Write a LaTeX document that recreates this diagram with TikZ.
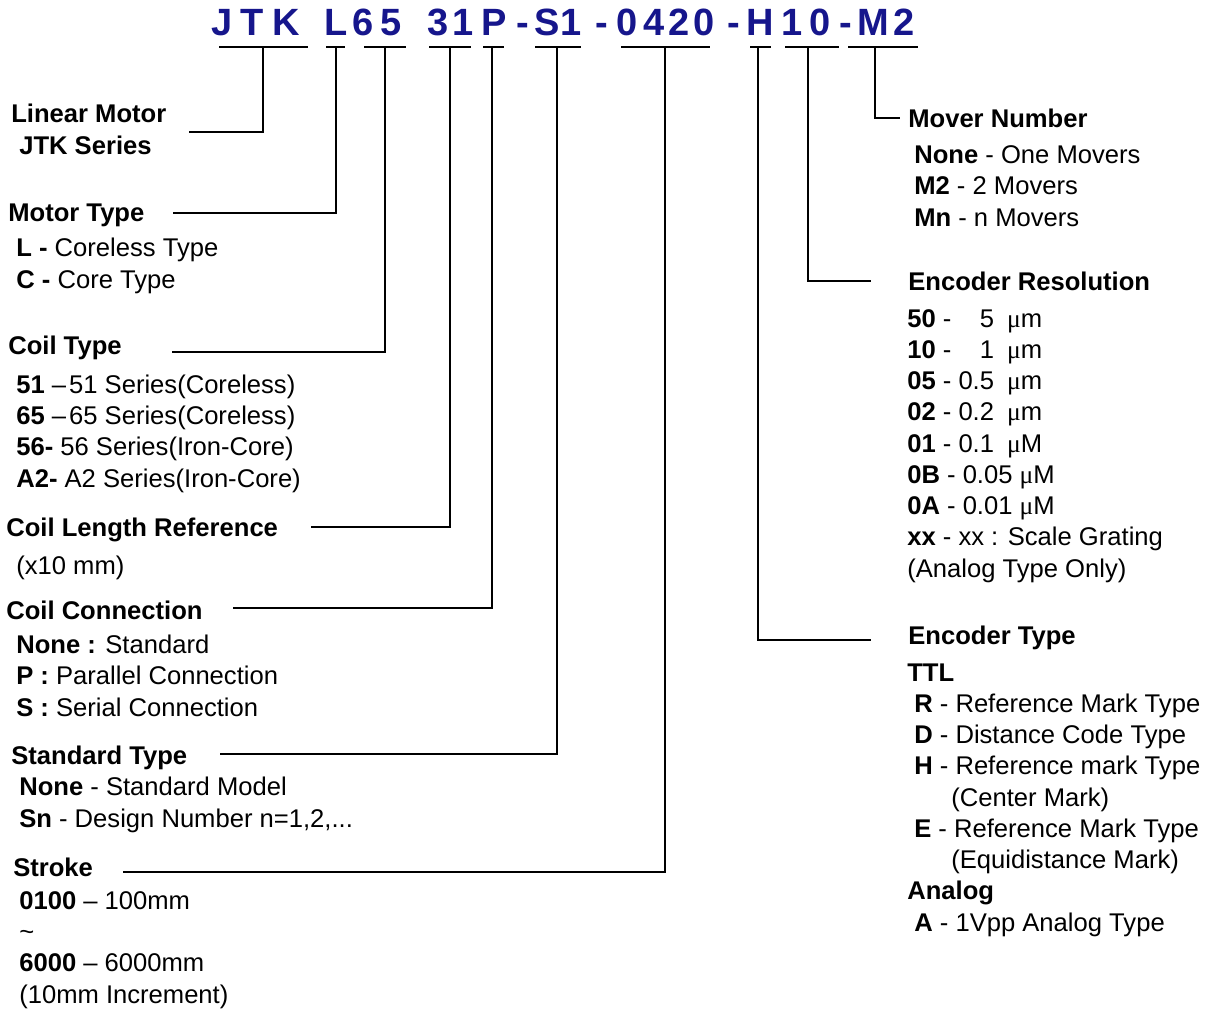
\documentclass[tikz,border=0pt]{standalone}
\usepackage{fontspec}
\setmainfont{Liberation Sans}
\newfontfamily\mufont{Liberation Serif}
\usepackage{xcolor}
\usetikzlibrary{positioning}
\definecolor{codeblue}{RGB}{22,22,140}
\newcommand{\mic}{{\mufont μ}}

\begin{document}
\begin{tikzpicture}[x=1pt, y=-1pt, line width=2.6pt,
    code/.style  = {font=\fontsize{38}{38}\selectfont\bfseries, text=codeblue, inner sep=0pt, anchor=base},
    head/.style  = {font=\fontsize{25.6}{31.25}\selectfont\bfseries, inner sep=0pt, anchor=base west},
    items/.style = {font=\fontsize{25.6}{31.25}\selectfont, inner sep=0pt, anchor=base west, align=left}]
  \useasboundingbox (0,0) rectangle (1211,1012);

  % model code
  \foreach \ch/\cx [count=\i] in {J/222, T/252, K/286, L/336, 6/363, 5/391, 3/438, 1/463, P/494, -/523,
      S/547, 1/571, -/602, 0/627, 4/654, 2/679, 0/704, -/734, H/760, 1/792, 0/820, -/846, M/873, 2/904}
    \node[code] (c\i) at (\cx,35) {\ch};

  % underlines
  \foreach \ua/\ub/\ut/\un in {219/308/263/jtk, 326/345/336/l, 364/406/385/coil, 429/471/450/len,
      483/504/492/con, 535/581/557/std, 621/710/665/strk, 750/771/758/enc, 785/839/808/res, 848/918/875/mov} {
    \draw (\ua,47) -- (\ub,47);
    \coordinate (u-\un) at (\ut,47);
  }

  % left column (item blocks sit on the baseline of their last line)
  \node[head] (linear) at (10,122) {Linear Motor};
  \node[head] (series) at (18,154) {JTK Series};
  \node[head] (mtype) at (7,221) {Motor Type};
  \node[items] (mtype-it) at (15,288) {\textbf{L -} Coreless Type\\\textbf{C -} Core Type};
  \node[head] (ctype) at (7,354) {Coil Type};
  \node[items] (ctype-it) at (15,487) {\textbf{51} –\kern3pt51 Series(Coreless)\\\textbf{65} –\kern3pt65 Series(Coreless)\\
      \textbf{56-} 56 Series(Iron-Core)\\\textbf{A2-} A2 Series(Iron-Core)};
  \node[head] (clen) at (5,536) {Coil Length Reference};
  \node[items] (clen-it) at (15,574) {(x10 mm)};
  \node[head] (ccon) at (5,619) {Coil Connection};
  \node[items] (ccon-it) at (15,716) {\textbf{None :} Standard\\\textbf{P :} Parallel Connection\\\textbf{S :} Serial Connection};
  \node[head] (stype) at (10,764) {Standard Type};
  \node[items] (stype-it) at (18,827) {\textbf{None} - Standard Model\\\textbf{Sn} - Design Number n=1,2,...};
  \node[head] (stroke) at (12,876) {Stroke};
  \node[items] (stroke-it) at (18,1003) {\textbf{0100} – 100mm\\\textasciitilde\\\textbf{6000} – 6000mm\\(10mm Increment)};

  % right column
  \node[head] (mover) at (907,127) {Mover Number};
  \node[items] (mover-it) at (913,226) {\textbf{None} - One Movers\\\textbf{M2} - 2 Movers\\\textbf{Mn} - n Movers};
  \node[head] (eres) at (907,290) {Encoder Resolution};
  \node[items] (eres-it) at (906,577) {\textbf{50} - \phantom{0.}5\hspace{13pt}\mic m\\\textbf{10} - \phantom{0.}1\hspace{13pt}\mic m\\
      \textbf{05} - 0.5\hspace{13pt}\mic m\\\textbf{02} - 0.2\hspace{13pt}\mic m\\\textbf{01} - 0.1\hspace{13pt}\mic M\\
      \textbf{0B} - 0.05 \mic M\\\textbf{0A} - 0.01 \mic M\\\textbf{xx} - xx : Scale Grating\\(Analog Type Only)};
  \node[head] (etype) at (907,644) {Encoder Type};
  \node[items] (etype-it) at (906,931) {\textbf{TTL}\\
      \hspace*{7pt}\textbf{R} - Reference Mark Type\\\hspace*{7pt}\textbf{D} - Distance Code Type\\
      \hspace*{7pt}\textbf{H} - Reference mark Type\\\hspace*{44pt}(Center Mark)\\
      \hspace*{7pt}\textbf{E} - Reference Mark Type\\\hspace*{44pt}(Equidistance Mark)\\
      \textbf{Analog}\\\hspace*{7pt}\textbf{A} - 1Vpp Analog Type};

  % leader ends
  \coordinate (e-linear) at (189,132);
  \coordinate (e-mtype) at (173,213);
  \coordinate (e-ctype) at (172,352);
  \coordinate (e-clen) at (311,527);
  \coordinate (e-ccon) at (233,608);
  \coordinate (e-stype) at (220,754);
  \coordinate (e-stroke) at (123,872);
  \coordinate (e-mover) at (900,118);
  \coordinate (e-eres) at (871,281);
  \coordinate (e-etype) at (871,640);

  % leaders
  \draw (e-linear) -| (u-jtk);
  \draw (e-mtype) -| (u-l);
  \draw (e-ctype) -| (u-coil);
  \draw (e-clen) -| (u-len);
  \draw (e-ccon) -| (u-con);
  \draw (e-stype) -| (u-std);
  \draw (e-stroke) -| (u-strk);
  \draw (u-mov) |- (e-mover);
  \draw (u-res) |- (e-eres);
  \draw (u-enc) |- (e-etype);
\end{tikzpicture}
\end{document}
